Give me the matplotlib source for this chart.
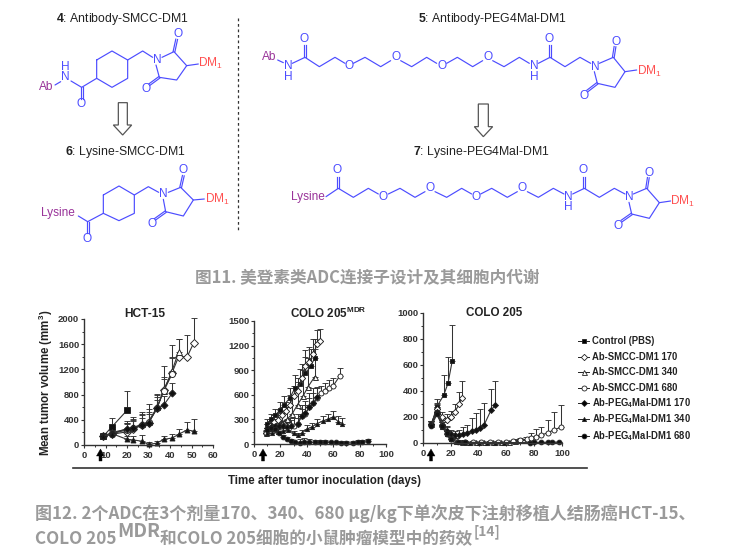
import matplotlib
matplotlib.use("Agg")
import matplotlib.pyplot as plt
from matplotlib.patches import Polygon

plt.rcParams['font.family'] = ['Liberation Sans', 'DejaVu Sans']
plt.rcParams['mathtext.fontset'] = 'custom'
plt.rcParams['mathtext.rm'] = 'Liberation Sans'
plt.rcParams['mathtext.bf'] = 'Liberation Sans:bold'
plt.rcParams['mathtext.it'] = 'Liberation Sans:italic'
W, H = 751, 558

# ---------- data: (days, mean, upper error) ----------
hct_days_ctrl = [9, 13, 20]
hct_ctrl = [140, 290, 550]
hct_ctrl_err = [30, 140, 310]
hct_days_long = [9, 13, 20, 23, 27, 30, 34, 37, 41, 44, 48, 51]
hct_s170 = [140, 170, 210, 260, 310, 350, 590, 870, 1150, 1400, 1400, 1620]
hct_s170_err = [30, 90, 120, 150, 180, 300, 220, 390, 430, 280, 350, 400]
hct_days_s340 = [9, 13, 20, 23, 27, 30, 34, 37, 41, 44]
hct_s340 = [140, 200, 250, 280, 330, 370, 600, 860, 1180, 1480]
hct_s340_err = [30, 90, 130, 170, 190, 200, 200, 220, 220, 200]
hct_days_s680 = [9, 13, 20, 23, 27, 30, 34, 37, 41]
hct_s680 = [140, 180, 240, 270, 320, 360, 590, 850, 1130]
hct_s680_err = [30, 70, 110, 130, 160, 170, 170, 200, 250]
hct_days_p170 = [9, 13, 20, 23, 27, 30, 34, 37, 41]
hct_p170 = [140, 180, 260, 270, 310, 350, 580, 630, 820]
hct_p170_err = [30, 70, 90, 110, 120, 140, 130, 150, 170]
hct_p340 = [140, 180, 90, 80, 60, 10, 30, 90, 110, 170, 240, 220]
hct_p340_err = [20, 50, 60, 60, 100, 40, 30, 50, 70, 90, 130, 190]

c2_days_ctrl = [10, 13, 16, 20, 23, 27, 31, 35, 39, 43, 46]
c2_ctrl = [240, 300, 350, 420, 480, 560, 680, 730, 860, 950, 1050]
c2_ctrl_err = [60, 70, 80, 90, 100, 120, 160, 180, 200, 210, 230]
c2_days_s170 = [9, 12, 15, 18, 21, 24, 27, 30, 33, 36, 39, 42, 45, 48, 50]
c2_s170 = [140, 220, 270, 290, 350, 400, 480, 580, 650, 800, 950, 1000, 1100, 1220, 1260]
c2_s170_err = [20, 60, 80, 90, 100, 110, 120, 130, 150, 180, 200, 180, 180, 170, 140]
c2_days_s340 = [9, 13, 17, 21, 25, 29, 33, 37, 41, 46]
c2_s340 = [140, 190, 230, 260, 300, 370, 480, 580, 700, 820]
c2_s340_err = [30, 60, 80, 120, 150, 220, 280, 320, 350, 340]
c2_days_s680 = [9, 12, 15, 18, 21, 24, 27, 30, 33, 36, 39, 42, 45, 48, 51, 54, 57, 60, 65]
c2_s680 = [140, 190, 210, 220, 220, 220, 230, 220, 240, 340, 370, 450, 500, 560, 620, 650, 680, 710, 830]
c2_s680_err = [20, 50, 50, 60, 60, 70, 90, 100, 120, 140, 160, 170, 180, 120, 90, 90, 100, 90, 100]
c2_days_p170 = [10, 13, 16, 19, 22, 25, 28, 33, 36, 39, 42, 45, 48]
c2_p170 = [200, 210, 220, 220, 220, 210, 220, 240, 340, 380, 450, 500, 570]
c2_p170_err = [40, 50, 50, 50, 60, 60, 70, 80, 90, 100, 110, 120, 130]
c2_days_p340 = [10, 14, 18, 22, 26, 30, 33, 36, 40, 44, 48, 52, 56, 60, 64, 67]
c2_p340 = [140, 130, 150, 160, 170, 130, 110, 130, 180, 210, 250, 280, 300, 330, 270, 250]
c2_p340_err = [30, 30, 30, 40, 40, 30, 30, 40, 50, 50, 60, 60, 70, 70, 70, 70]
c2_days_p680 = [10, 13, 16, 19, 22, 25, 28, 31, 35, 38, 42, 46, 50, 54, 58, 62, 66, 70, 75, 79, 82, 86]
c2_p680 = [170, 190, 180, 130, 90, 60, 40, 20, 15, 30, 25, 20, 20, 25, 20, 20, 15, 15, 15, 25, 30, 40]
c2_p680_err = [30, 30, 30, 30, 20, 20, 20, 10, 50, 40, 30, 30, 30, 20, 20, 20, 20, 20, 20, 20, 20, 20]

c3_days_ctrl = [6, 10, 15, 18, 21]
c3_ctrl = [140, 280, 370, 460, 630]
c3_ctrl_err = [30, 60, 150, 200, 280]
c3_days_s170 = [6, 10, 14, 17, 20, 23, 26, 28]
c3_s170 = [150, 260, 200, 180, 200, 240, 300, 350]
c3_s170_err = [20, 50, 40, 40, 50, 60, 90, 130]
c3_days_s340 = [6, 10, 14, 17, 20, 24, 28, 32, 38, 44, 50, 56, 62, 66, 70, 74]
c3_s340 = [150, 250, 160, 100, 40, 20, 10, 5, 5, 5, 5, 5, 5, 15, 20, 25]
c3_s340_err = [20, 40, 40, 30, 20, 15, 10, 5, 5, 5, 5, 5, 10, 15, 20, 25]
c3_days_s680 = [6, 10, 14, 17, 20, 24, 30, 36, 42, 48, 54, 60, 65, 70, 75, 78, 81, 85, 90, 94, 99]
c3_s680 = [140, 230, 130, 70, 30, 15, 5, 5, 5, 5, 5, 5, 12, 20, 30, 40, 50, 60, 80, 100, 120]
c3_s680_err = [20, 40, 30, 30, 20, 10, 5, 5, 5, 5, 5, 5, 8, 12, 20, 40, 60, 60, 100, 140, 170]
c3_days_p170 = [6, 10, 14, 17, 20, 23, 26, 29, 32, 35, 38, 41, 44, 49, 52]
c3_p170 = [150, 240, 140, 90, 70, 60, 60, 70, 80, 90, 100, 115, 140, 254, 290]
c3_p170_err = [20, 60, 40, 30, 30, 30, 40, 50, 60, 100, 130, 150, 170, 160, 187]
c3_days_p340 = [6, 10, 14, 17, 20, 24, 28, 34, 40, 46, 52, 58]
c3_p340 = [150, 240, 120, 70, 30, 10, 5, 3, 3, 3, 3, 3]
c3_p340_err = [20, 40, 30, 20, 15, 10, 5, 3, 3, 3, 3, 3]
c3_days_p680 = [6, 10, 14, 17, 20, 25, 30, 77, 80, 85, 90, 93, 98]
c3_p680 = [130, 220, 130, 80, 30, 10, 5, 3, 5, 5, 6, 6, 8]
c3_p680_err = [20, 40, 30, 20, 15, 10, 5, 3, 3, 3, 3, 3, 3]

legend_labels = ['Control (PBS)', 'Ab-SMCC-DM1 170', 'Ab-SMCC-DM1 340', 'Ab-SMCC-DM1 680',
                 'Ab-PEG$_{\\mathbf{4}}$Mal-DM1 170', 'Ab-PEG$_{\\mathbf{4}}$Mal-DM1 340',
                 'Ab-PEG$_{\\mathbf{4}}$Mal-DM1 680']
legend_markers = ['s', 'D', '^', 'o', 'D', '^', 'o']
legend_filled = [True, False, False, False, True, True, True]
legend_sizes = [3.4, 3.2, 3.6, 3.6, 3.0, 3.0, 3.4]
legend_y = [340.5, 357, 372, 388, 403, 419, 436]

fig = plt.figure(figsize=(W / 100, H / 100), dpi=100, facecolor='white')
ov = fig.add_axes([0, 0, 1, 1], zorder=0)
ov.set_xlim(0, W); ov.set_ylim(H, 0); ov.axis('off')

def panel(left, right, top, bottom, xmax, ymax, xticks, yticks, yminor):
    ax = fig.add_axes([left / W, 1 - bottom / H, (right - left) / W, (bottom - top) / H],
                      zorder=2, facecolor='none')
    ax.set_xlim(0, xmax); ax.set_ylim(0, ymax)
    ax.spines['top'].set_visible(False); ax.spines['right'].set_visible(False)
    for s in ('left', 'bottom'):
        ax.spines[s].set_linewidth(1.0); ax.spines[s].set_color('#333333')
    ax.set_xticks(xticks); ax.set_yticks(yticks); ax.set_yticks(yminor, minor=True)
    ax.tick_params(axis='both', which='major', length=2, width=0.8, labelsize=6.8,
                   colors='#333333')
    ax.tick_params(axis='both', which='minor', length=1.2, width=0.7, colors='#333333')
    ax.tick_params(axis='y', pad=1.5)
    ax.tick_params(axis='x', pad=2.5)
    for t in ax.get_xticklabels() + ax.get_yticklabels():
        t.set_fontweight('bold')
    return ax

def series(ax, x, y, e, marker, filled, ms):
    face = '#111111' if filled else 'white'
    ax.errorbar(x, y, yerr=[[0] * len(e), e], color='#333333', lw=0.8, elinewidth=0.75,
                capsize=2.4, capthick=0.75, marker=marker, ms=ms, mfc=face, mec='#222222',
                mew=0.65, clip_on=False)

a1 = panel(84, 213, 319, 445, 60, 2000, range(0, 61, 10), range(0, 2001, 400), range(200, 2000, 400))
a1.set_xticks(range(5, 60, 10), minor=True)
for x, y, e, i in [(hct_days_ctrl, hct_ctrl, hct_ctrl_err, 0), (hct_days_long, hct_s170, hct_s170_err, 1),
                   (hct_days_s340, hct_s340, hct_s340_err, 2), (hct_days_s680, hct_s680, hct_s680_err, 3),
                   (hct_days_p170, hct_p170, hct_p170_err, 4), (hct_days_long, hct_p340, hct_p340_err, 5)]:
    series(a1, x, y, e, legend_markers[i], legend_filled[i], legend_sizes[i] * 1.2)

a2 = panel(254, 386, 321, 444, 100, 1500, range(0, 101, 20), range(0, 1501, 300), range(150, 1500, 300))
a2.set_xticks(range(10, 100, 20), minor=True)
for x, y, e, i in [(c2_days_ctrl, c2_ctrl, c2_ctrl_err, 0), (c2_days_s170, c2_s170, c2_s170_err, 1),
                   (c2_days_s340, c2_s340, c2_s340_err, 2), (c2_days_s680, c2_s680, c2_s680_err, 3),
                   (c2_days_p170, c2_p170, c2_p170_err, 4), (c2_days_p340, c2_p340, c2_p340_err, 5),
                   (c2_days_p680, c2_p680, c2_p680_err, 6)]:
    series(a2, x, y, e, legend_markers[i], legend_filled[i], legend_sizes[i])

a3 = panel(423, 562, 313, 443, 100, 1000, range(0, 101, 20), range(0, 1001, 200), range(100, 1000, 200))
a3.set_xticks(range(10, 100, 20), minor=True)
for x, y, e, i in [(c3_days_ctrl, c3_ctrl, c3_ctrl_err, 0), (c3_days_s170, c3_s170, c3_s170_err, 1),
                   (c3_days_s340, c3_s340, c3_s340_err, 2), (c3_days_s680, c3_s680, c3_s680_err, 3),
                   (c3_days_p170, c3_p170, c3_p170_err, 4), (c3_days_p340, c3_p340, c3_p340_err, 5),
                   (c3_days_p680, c3_p680, c3_p680_err, 6)]:
    series(a3, x, y, e, legend_markers[i], legend_filled[i], legend_sizes[i])

# panel furniture in pixel space
DK = '#222222'
ov.text(145, 314, 'HCT-15', ha='center', va='center', fontsize=8.6, fontweight='bold', color=DK)
ov.text(328, 313, 'COLO 205$^{\\mathbf{MDR}}$', ha='center', va='center', fontsize=8.4, fontweight='bold', color=DK)
ov.text(494, 313.5, 'COLO 205', ha='center', va='center', fontsize=8.4, fontweight='bold', color=DK)
ov.text(46, 383, 'Mean tumor volume (mm$^{\\mathbf{3}}$)', rotation=90, ha='center', va='center',
        fontsize=8.3, fontweight='bold', color=DK)
ov.plot([73, 587], [468, 468], color='#333333', lw=1.2)
ov.text(325, 481, 'Time after tumor inoculation (days)', ha='center', va='center', fontsize=8.3,
        fontweight='bold', color=DK)
for ax_x in (100.5, 263, 431):
    ov.add_patch(Polygon([(ax_x, 449), (ax_x + 4, 456), (ax_x + 1.5, 456), (ax_x + 1.5, 461),
                          (ax_x - 1.5, 461), (ax_x - 1.5, 456), (ax_x - 4, 456)], closed=True,
                         fc='black', ec='black', lw=0.3, zorder=5))

# legend in pixel space
for lab, m, f, s, y in zip(legend_labels, legend_markers, legend_filled, legend_sizes, legend_y):
    ov.plot([578, 589], [y, y], color=DK, lw=0.7)
    ov.plot([583.5], [y], marker=m, ms=s, mfc='black' if f else 'white', mec=DK, mew=0.6)
    ov.text(592, y, lab, ha='left', va='center', fontsize=6.85, fontweight='bold', color=DK)

# ---------- chemical schemes ----------
BLUE, RED, PURP = '#4c4cff', '#ff5050', '#993399'
LW = 0.85

def draw_mol(x0, paths, doubles, labels):
    def P(p):
        return x0 + p[0] / 3, p[1] / 3
    for path in paths:
        pts = [P(p) for p in path]
        ov.plot([p[0] for p in pts], [p[1] for p in pts], color=BLUE, lw=LW, solid_capstyle='round')
    for a, b in doubles:
        (xa, ya), (xb, yb) = P(a), P(b)
        dx, dy = xb - xa, yb - ya
        n = (dx * dx + dy * dy) ** .5
        ox, oy = -dy / n * 0.9, dx / n * 0.9
        ov.plot([xa + ox, xb + ox], [ya + oy, yb + oy], color=BLUE, lw=LW)
        ov.plot([xa - ox, xb - ox], [ya - oy, yb - oy], color=BLUE, lw=LW)
    for (p, s, c) in labels:
        x, y = P(p)
        ov.text(x, y, s, color=c, fontsize=8.6, ha='center', va='center')

mol4_paths = [[(230, 180), (276, 153), (323, 180), (323, 235), (276, 262), (230, 235), (230, 180)],
              [(323, 180), (368, 153), (398, 172)], [(426, 172), (462, 155), (500, 197), (470, 240), (418, 232), (408, 195)],
              [(500, 197), (535, 192)], [(230, 235), (185, 262), (153, 243)], [(122, 245), (105, 255)]]
mol4_dbl = [((462, 155), (470, 118)), ((418, 232), (388, 254)), ((185, 262), (185, 297))]
mol4_lab = [((412, 180), 'N', BLUE), ((473, 103), 'O', BLUE), ((378, 268), 'O', BLUE), ((183, 313), 'O', BLUE),
            ((137, 232), 'N', BLUE), ((137, 200), 'H', BLUE), ((78, 262), 'Ab', PURP), ((572, 191), 'DM$_1$', RED)]
draw_mol(20, mol4_paths, mol4_dbl, mol4_lab)

mol6_paths = [[(250, 585), (297, 558), (343, 585), (343, 640), (297, 662), (250, 640), (250, 585)],
              [(343, 585), (385, 560), (416, 577)], [(445, 577), (482, 562), (520, 600), (490, 648), (437, 635), (430, 598)],
              [(520, 600), (553, 597)], [(250, 640), (203, 665), (175, 648)]]
mol6_dbl = [((482, 562), (490, 527)), ((437, 635), (405, 658)), ((203, 665), (203, 700))]
mol6_lab = [((430, 582), 'N', BLUE), ((490, 510), 'O', BLUE), ((397, 673), 'O', BLUE), ((200, 716), 'O', BLUE),
            ((113, 638), 'Lysine', PURP), ((591, 599), 'DM$_1$', RED)]
draw_mol(20, mol6_paths, mol6_dbl, mol6_lab)

mol5_paths = [[(83, 180), (100, 188)], [(127, 190), (165, 172), (208, 200), (255, 172), (285, 190)],
              [(310, 190), (345, 172), (392, 200), (422, 182)], [(452, 182), (485, 200), (530, 172), (560, 190)],
              [(590, 190), (622, 172), (668, 200), (698, 182)], [(728, 182), (762, 200), (808, 172), (838, 190)],
              [(865, 190), (900, 172), (945, 200), (990, 172), (1022, 190)],
              [(1048, 190), (1090, 172), (1125, 215), (1095, 262), (1042, 250), (1033, 215)], [(1125, 215), (1160, 210)]]
mol5_dbl = [((165, 172), (165, 135)), ((900, 172), (900, 135)), ((1090, 172), (1095, 140)), ((1042, 250), (1012, 273))]
mol5_lab = [((57, 172), 'Ab', PURP), ((115, 198), 'N', BLUE), ((115, 230), 'H', BLUE), ((162, 118), 'O', BLUE),
            ((298, 198), 'O', BLUE), ((437, 172), 'O', BLUE), ((575, 198), 'O', BLUE), ((713, 172), 'O', BLUE),
            ((852, 198), 'N', BLUE), ((852, 230), 'H', BLUE), ((898, 118), 'O', BLUE), ((1035, 200), 'N', BLUE),
            ((1097, 125), 'O', BLUE), ((1002, 288), 'O', BLUE), ((1197, 213), 'DM$_1$', RED)]
draw_mol(250, mol5_paths, mol5_dbl, mol5_lab)

mol7_paths = [[(228, 590), (265, 565), (310, 592), (355, 565), (385, 582)], [(415, 582), (450, 565), (495, 592), (525, 575)],
              [(555, 575), (590, 592), (635, 565), (665, 582)], [(692, 582), (725, 565), (772, 592), (802, 575)],
              [(832, 575), (865, 592), (910, 565), (942, 582)],
              [(968, 582), (1003, 565), (1048, 592), (1093, 565), (1125, 582)],
              [(1150, 582), (1190, 565), (1228, 608), (1198, 655), (1145, 642), (1137, 607)], [(1228, 608), (1262, 603)]]
mol7_dbl = [((265, 565), (265, 530)), ((1003, 565), (1003, 530)), ((1190, 565), (1195, 533)), ((1145, 642), (1115, 663))]
mol7_lab = [((173, 590), 'Lysine', PURP), ((262, 510), 'O', BLUE), ((400, 590), 'O', BLUE), ((540, 565), 'O', BLUE),
            ((678, 590), 'O', BLUE), ((817, 565), 'O', BLUE), ((955, 590), 'N', BLUE), ((955, 622), 'H', BLUE),
            ((1000, 510), 'O', BLUE), ((1137, 592), 'N', BLUE), ((1198, 518), 'O', BLUE), ((1105, 678), 'O', BLUE),
            ((1298, 604), 'DM$_1$', RED)]
draw_mol(250, mol7_paths, mol7_dbl, mol7_lab)

# scheme titles
TC = '#222222'
for x, y, s in [(122.5, 19, '$\\mathbf{4}$: Antibody-SMCC-DM1'), (125, 152, '$\\mathbf{6}$: Lysine-SMCC-DM1'),
                (492.5, 19, '$\\mathbf{5}$: Antibody-PEG4Mal-DM1'), (481, 152, '$\\mathbf{7}$: Lysine-PEG4Mal-DM1')]:
    ov.text(x, y, s, ha='center', va='center', fontsize=8.8, color=TC)

# hollow arrows
for ax_x, pts in [(20, [(295, 308), (322, 308), (322, 375), (335, 375), (308, 405), (280, 375), (295, 375)]),
                  (250, [(685, 312), (715, 312), (715, 380), (728, 380), (700, 410), (673, 380), (685, 380)])]:
    ov.add_patch(Polygon([(ax_x + p[0] / 3, p[1] / 3) for p in pts], closed=True, fc='white', ec='#555555', lw=0.9))

# dashed divider
ov.plot([238, 238], [18, 232], color='#333333', lw=0.9, ls=(0, (2.2, 2.2)))

# ---------- captions ----------
GRAY = '#9a9a9a'
CJK = ['Noto Sans CJK SC', 'DejaVu Sans']
fig.canvas.draw()
rend = fig.canvas.get_renderer()

def fit(x0, x1, y, s, base):
    t = ov.text(x0, y, s, ha='left', va='center', fontsize=base, fontweight='bold', color=GRAY, family=CJK)
    w = t.get_window_extent(rend).width
    t.set_fontsize(base * (x1 - x0) / w)
    return t

fit(195, 539, 278, '图11. 美登素类ADC连接子设计及其细胞内代谢', 10)
fit(35, 694, 513.5, '图12. 2个ADC在3个剂量170、340、680 μg/kg下单次皮下注射移植人结肠癌HCT-15、', 10)
fit(35, 117, 539.5, 'COLO 205', 10)
fit(117, 160, 531.5, 'MDR', 10)
fit(160, 473, 539.5, '和COLO 205细胞的小鼠肿瘤模型中的药效', 10)
fit(474, 501, 532, '[14]', 7)

fig.savefig('out.png', dpi=100, facecolor='white')
